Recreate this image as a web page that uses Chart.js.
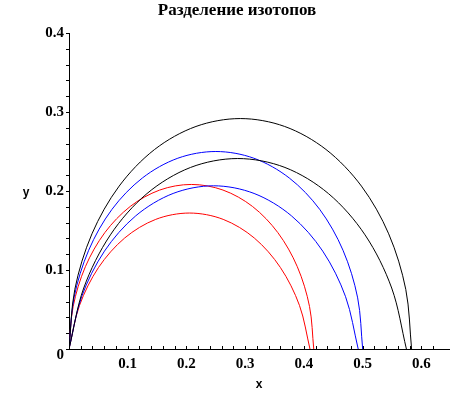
<!DOCTYPE html>
<html>
<head>
<meta charset="utf-8">
<script src="https://cdn.jsdelivr.net/npm/chart.js@4"></script>
<style>
html, body { margin: 0; padding: 0; background: #fff; }
</style>
</head>
<body>
<canvas id="chart" width="474" height="394"></canvas>
<script>
// trajectories (x, y pairs per curve)
const redOuterX = [0, 0.0071, 0.0279, 0.0610, 0.1042, 0.1544, 0.2083, 0.2622, 0.3125, 0.3556, 0.3887, 0.4095, 0.4167];
const redOuterY = [0, 0.0539, 0.1042, 0.1473, 0.1804, 0.2012, 0.2083, 0.2012, 0.1804, 0.1473, 0.1042, 0.0539, 0];
const redInnerX = [0, 0.0179, 0.0503, 0.0948, 0.1477, 0.2051, 0.2625, 0.3155, 0.3599, 0.3924, 0.4103];
const redInnerY = [0, 0.0552, 0.1032, 0.1405, 0.1641, 0.1721, 0.1641, 0.1405, 0.1032, 0.0552, 0];

const blueOuterX = [0, 0.0085, 0.0335, 0.0732, 0.125, 0.1853, 0.25, 0.3147, 0.375, 0.4268, 0.4665, 0.4915, 0.5];
const blueOuterY = [0, 0.0647, 0.125, 0.1768, 0.2165, 0.2415, 0.25, 0.2415, 0.2165, 0.1768, 0.125, 0.0647, 0];
const blueInnerX = [0, 0.0215, 0.0604, 0.1137, 0.1773, 0.2462, 0.3151, 0.3787, 0.4320, 0.4709, 0.4924];
const blueInnerY = [0, 0.0662, 0.1239, 0.1686, 0.1969, 0.2066, 0.1969, 0.1686, 0.1239, 0.0662, 0];

const blackOuterX = [0, 0.0099, 0.0391, 0.0854, 0.1458, 0.2162, 0.2917, 0.3672, 0.4375, 0.4979, 0.5443, 0.5734, 0.5833];
const blackOuterY = [0, 0.0755, 0.1458, 0.2062, 0.2526, 0.2817, 0.2917, 0.2817, 0.2526, 0.2062, 0.1458, 0.0755, 0];
const blackInnerX = [0, 0.0251, 0.0705, 0.1327, 0.2069, 0.2873, 0.3677, 0.4418, 0.5040, 0.5494, 0.5745];
const blackInnerY = [0, 0.0772, 0.1445, 0.1967, 0.2298, 0.2411, 0.2298, 0.1967, 0.1445, 0.0772, 0];

const xTickLabels = ['0.1', '0.2', '0.3', '0.4', '0.5', '0.6'];
const yTickLabels = ['0', '0.1', '0.2', '0.3', '0.4'];
const minorStep = 0.02;
const titleText = 'Разделение изотопов';

function pts(xs, ys) {
  return xs.map((x, i) => ({ x: x, y: ys[i] }));
}

function curve(xs, ys, color) {
  return {
    data: pts(xs, ys),
    borderColor: color,
    borderWidth: 1,
    pointRadius: 0,
    showLine: true,
    tension: 0.33,
    fill: false
  };
}

// label only the 0.1 steps; the origin "0" is drawn a bit lower by the plugin
function labelFor(list) {
  return function (v) {
    if (Math.abs(v) < 1e-9) return '';
    const s = v.toFixed(1);
    return Math.abs(v * 10 - Math.round(v * 10)) < 1e-6 && list.includes(s) ? s : '';
  };
}

const tickFont = { family: 'Liberation Serif', size: 15, weight: 'bold' };

const axisMarks = {
  id: 'axisMarks',
  afterDraw(chart) {
    const ctx = chart.ctx;
    const a = chart.chartArea;
    const xs = chart.scales.x, ys = chart.scales.y;
    ctx.save();
    ctx.strokeStyle = '#000';
    ctx.lineWidth = 1;
    ctx.beginPath();
    xs.ticks.forEach(t => {
      const px = Math.round(xs.getPixelForValue(t.value)) + 0.5;
      ctx.moveTo(px, a.bottom);
      ctx.lineTo(px, a.bottom - 3);
    });
    ys.ticks.forEach(t => {
      const py = Math.round(ys.getPixelForValue(t.value)) + 0.5;
      ctx.moveTo(a.left, py);
      ctx.lineTo(a.left - 3, py);
    });
    ctx.stroke();
    ctx.fillStyle = '#000';
    ctx.textBaseline = 'middle';
    // title centred on the whole picture
    ctx.font = 'bold 17px "Liberation Serif"';
    ctx.textAlign = 'center';
    ctx.fillText(titleText, chart.width / 2, 11);
    ctx.font = 'bold 15px "Liberation Serif"';
    ctx.textAlign = 'right';
    ctx.fillText(yTickLabels[0], a.left - 5, ys.getPixelForValue(0) + 6);
    ctx.font = 'bold 12px "Liberation Sans"';
    ctx.textAlign = 'center';
    ctx.fillText('x', (a.left + a.right) / 2, 385);
    ctx.fillText('y', 26, (a.top + a.bottom) / 2 + 2);
    ctx.restore();
  }
};

new Chart(document.getElementById('chart'), {
  type: 'scatter',
  data: {
    datasets: [
      curve(blackOuterX, blackOuterY, '#000000'),
      curve(blackInnerX, blackInnerY, '#000000'),
      curve(blueOuterX, blueOuterY, '#0000ff'),
      curve(blueInnerX, blueInnerY, '#0000ff'),
      curve(redOuterX, redOuterY, '#ff0000'),
      curve(redInnerX, redInnerY, '#ff0000')
    ]
  },
  options: {
    responsive: false,
    devicePixelRatio: 1,
    animation: false,
    layout: { padding: { top: 33, left: 0, right: 25, bottom: 0 } },
    plugins: {
      legend: { display: false },
      tooltip: { enabled: false },
      title: { display: false }
    },
    scales: {
      x: {
        type: 'linear',
        min: 0,
        max: 0.647,
        afterBuildTicks: s => { s.ticks = s.ticks.filter(t => Math.abs(t.value / minorStep - Math.round(t.value / minorStep)) < 1e-6); },
        afterFit: s => { s.height = 45; },
        grid: { display: true, drawOnChartArea: false, drawTicks: false },
        border: { display: true, color: '#000', width: 1 },
        ticks: {
          stepSize: minorStep,
          autoSkip: false,
          maxRotation: 0,
          padding: 6,
          color: '#000',
          font: tickFont,
          callback: labelFor(xTickLabels)
        }
      },
      y: {
        type: 'linear',
        min: 0,
        max: 0.4,
        afterFit: s => { s.width = 69; },
        grid: { display: true, drawOnChartArea: false, drawTicks: false },
        border: { display: true, color: '#000', width: 1 },
        ticks: {
          stepSize: minorStep,
          autoSkip: false,
          padding: 5,
          color: '#000',
          font: tickFont,
          callback: labelFor(yTickLabels)
        }
      }
    }
  },
  plugins: [axisMarks]
});
</script>
</body>
</html>
